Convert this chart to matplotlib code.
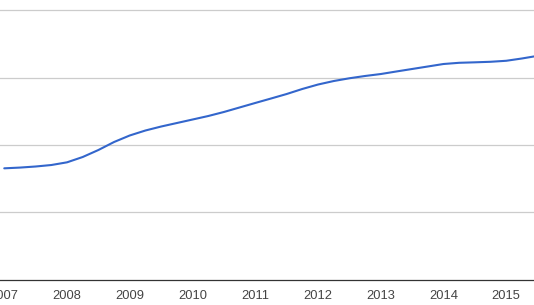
import matplotlib
matplotlib.use("Agg")
import matplotlib.pyplot as plt

# Data (quarterly samples, arbitrary units; gridlines every 100)
years = [2007.0, 2007.25, 2007.5, 2007.75, 2008.0, 2008.25, 2008.5, 2008.75,
         2009.0, 2009.25, 2009.5, 2009.75, 2010.0, 2010.25, 2010.5, 2010.75,
         2011.0, 2011.25, 2011.5, 2011.75, 2012.0, 2012.25, 2012.5, 2012.75,
         2013.0, 2013.25, 2013.5, 2013.75, 2014.0, 2014.25, 2014.5, 2014.75,
         2015.0, 2015.25, 2015.44]
values = [165.2, 166.3, 167.9, 170.1, 174.1, 182.0, 192.4, 204.3,
          214.0, 221.4, 227.3, 232.5, 237.7, 242.9, 248.9, 255.6,
          262.3, 268.9, 275.6, 283.1, 289.7, 294.9, 299.0, 302.4,
          305.3, 309.1, 312.8, 316.5, 320.2, 322.0, 322.7, 323.5,
          325.0, 328.4, 331.4]
tick_years = [2007, 2008, 2009, 2010, 2011, 2012, 2013, 2014, 2015]
tick_labels = [str(y) for y in tick_years]
grid_values = [100, 200, 300, 400]

W, H = 534, 305
fig = plt.figure(figsize=(W / 100, H / 100), dpi=100)
fig.patch.set_facecolor("white")

bottom_px = 279.5
top_px = 3.57
ax = fig.add_axes([0, (H - bottom_px) / H, 1, (bottom_px - top_px) / H])
ax.set_facecolor("white")

ax.set_xlim(2008 - 67 / 62.75, 2008 + 467 / 62.75)
ax.set_ylim(0, 410)

for g in grid_values:
    ax.axhline(g, color="#cccccc", lw=0.9, zorder=1)

ax.plot(years, values, color="#3366cc", lw=1.5, solid_capstyle="round",
        solid_joinstyle="round", zorder=3)

for s in ["top", "right", "left"]:
    ax.spines[s].set_visible(False)
ax.spines["bottom"].set_color("#333333")
ax.spines["bottom"].set_linewidth(0.9)

ax.set_yticks([])
ax.set_xticks(tick_years)
ax.set_xticklabels(tick_labels, fontfamily="Liberation Sans", fontsize=9.3, color="#444444")
ax.tick_params(axis="x", length=0, pad=7.5)

fig.savefig("out.png", dpi=100, facecolor="white")
